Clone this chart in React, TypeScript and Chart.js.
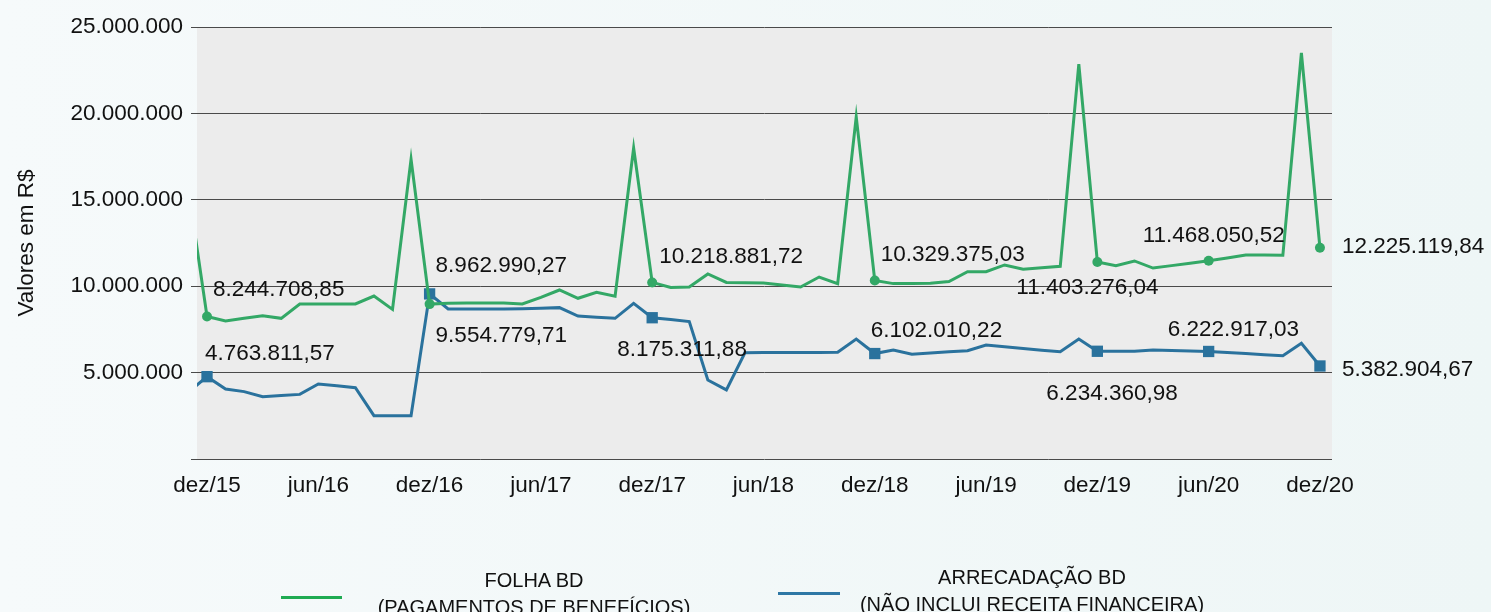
import React, { useEffect, useRef } from 'react';
import { Chart, registerables } from 'chart.js';

Chart.register(...registerables);

// ---------- DATA ----------
const MONTHS = [
  'nov/15', 'dez/15',
  'jan/16', 'fev/16', 'mar/16', 'abr/16', 'mai/16', 'jun/16', 'jul/16', 'ago/16', 'set/16', 'out/16', 'nov/16', 'dez/16',
  'jan/17', 'fev/17', 'mar/17', 'abr/17', 'mai/17', 'jun/17', 'jul/17', 'ago/17', 'set/17', 'out/17', 'nov/17', 'dez/17',
  'jan/18', 'fev/18', 'mar/18', 'abr/18', 'mai/18', 'jun/18', 'jul/18', 'ago/18', 'set/18', 'out/18', 'nov/18', 'dez/18',
  'jan/19', 'fev/19', 'mar/19', 'abr/19', 'mai/19', 'jun/19', 'jul/19', 'ago/19', 'set/19', 'out/19', 'nov/19', 'dez/19',
  'jan/20', 'fev/20', 'mar/20', 'abr/20', 'mai/20', 'jun/20', 'jul/20', 'ago/20', 'set/20', 'out/20', 'nov/20', 'dez/20',
];

// FOLHA BD (PAGAMENTOS DE BENEFÍCIOS), R$
const FOLHA = [
  15600000, 8244708.85,
  7990000, 8140000, 8290000, 8140000, 8970000, 8970000, 8970000, 8970000, 9430000, 8660000, 17350000, 8962990.27,
  9010000, 9030000, 9030000, 9030000, 8970000, 9350000, 9780000, 9300000, 9650000, 9420000, 18000000, 10218881.72,
  9930000, 9950000, 10710000, 10220000, 10200000, 10180000, 10070000, 9950000, 10530000, 10140000, 19800000, 10329375.03,
  10150000, 10160000, 10170000, 10270000, 10840000, 10840000, 11230000, 10980000, 11070000, 11150000, 22850000, 11403276.04,
  11190000, 11460000, 11050000, 11190000, 11330000, 11468050.52, 11630000, 11800000, 11800000, 11790000, 23500000, 12225119.84,
];

// ARRECADAÇÃO BD (NÃO INCLUI RECEITA FINANCEIRA), R$
const ARRECADACAO = [
  3870000, 4763811.57,
  4050000, 3900000, 3600000, 3670000, 3740000, 4340000, 4240000, 4130000, 2510000, 2510000, 2510000, 9554779.71,
  8680000, 8680000, 8680000, 8680000, 8690000, 8720000, 8760000, 8270000, 8200000, 8140000, 9010000, 8175311.88,
  8070000, 7950000, 4570000, 4000000, 6150000, 6160000, 6160000, 6170000, 6170000, 6180000, 6940000, 6102010.22,
  6310000, 6060000, 6130000, 6210000, 6270000, 6600000, 6500000, 6400000, 6300000, 6210000, 6940000, 6234360.98,
  6230000, 6230000, 6310000, 6280000, 6250000, 6222917.03, 6160000, 6100000, 6040000, 5980000, 6700000, 5382904.67,
];

const TICK_LABELS = ['dez/15', 'jun/16', 'dez/16', 'jun/17', 'dez/17', 'jun/18', 'dez/18', 'jun/19', 'dez/19', 'jun/20', 'dez/20'];
const Y_TICKS = [0, 5000000, 10000000, 15000000, 20000000, 25000000];
const MARKED = ['dez/15', 'dez/16', 'dez/17', 'dez/18', 'dez/19', 'jun/20', 'dez/20'];

const SERIES_NAMES = ['FOLHA BD\n(PAGAMENTOS DE BENEFÍCIOS)', 'ARRECADAÇÃO BD\n(NÃO INCLUI RECEITA FINANCEIRA)'];
const Y_TITLE = 'Valores em R$';

// ---------- STYLE ----------
const FONT = '"Liberation Sans", Arial, Helvetica, sans-serif';
const GREEN = '#33a866';
const BLUE = '#2a729d';
const LEGEND_GREEN = '#1fab52';
const LEGEND_BLUE = '#2e77a5';
// label offsets (px) from marker: [dx to text left, dy to text middle]
const GREEN_LABEL_OFFSETS = [[6, -29], [6, -40], [7, -27], [6, -28], [-81, 24], [-66, -27], [22, -3]];
const BLUE_LABEL_OFFSETS = [[-2, -25], [6, 40], [-35, 30], [-4, -25], [-51, 41], [-41, -23], [22, 2]];

const BASE = MONTHS.indexOf('dez/15');
const markedIdx = new Set(MARKED.map((m) => MONTHS.indexOf(m)));

function fmtInt(v: number): string {
  const s = Math.round(v).toString();
  return s.replace(/\B(?=(\d{3})+(?!\d))/g, '.');
}
function fmtMoney(v: number): string {
  const cents = Math.round(v * 100);
  const intPart = Math.floor(cents / 100);
  const dec = (cents % 100).toString().padStart(2, '0');
  return fmtInt(intPart) + ',' + dec;
}

const bgPlugin = {
  id: 'plotBg',
  beforeDraw(chart: any) {
    const { ctx, chartArea } = chart;
    ctx.save();
    ctx.fillStyle = '#ececec';
    ctx.fillRect(chartArea.left, chartArea.top, chartArea.right - chartArea.left, chartArea.bottom - chartArea.top);
    ctx.restore();
  },
};

const labelPlugin = {
  id: 'valueLabels',
  afterDatasetsDraw(chart: any) {
    const ctx = chart.ctx;
    ctx.save();
    ctx.font = `22.5px ${FONT}`;
    ctx.fillStyle = '#111';
    ctx.textAlign = 'left';
    ctx.textBaseline = 'alphabetic';
    [GREEN_LABEL_OFFSETS, BLUE_LABEL_OFFSETS].forEach((offs, di) => {
      const meta = chart.getDatasetMeta(di);
      const values = di === 0 ? FOLHA : ARRECADACAO;
      MARKED.forEach((m, k) => {
        const idx = MONTHS.indexOf(m);
        const pt = meta.data[idx];
        if (!pt) return;
        const [dx, dy] = offs[k];
        ctx.fillText(fmtMoney(values[idx]), pt.x + dx, pt.y + dy + 8);
      });
    });
    ctx.restore();
  },
};

export default function App() {
  const ref = useRef<HTMLCanvasElement | null>(null);

  useEffect(() => {
    if (!ref.current) return;
    const toPoints = (arr: number[]) => arr.map((v, i) => ({ x: i - BASE, y: v }));
    const chart = new Chart(ref.current, {
      type: 'line',
      data: {
        datasets: [
          {
            label: SERIES_NAMES[0],
            data: toPoints(FOLHA),
            borderColor: GREEN,
            backgroundColor: GREEN,
            borderWidth: 3,
            pointStyle: 'circle',
            pointRadius: (c: any) => (markedIdx.has(c.dataIndex) ? 5 : 0),
            pointBorderWidth: 0,
            pointBackgroundColor: GREEN,
            tension: 0,
          },
          {
            label: SERIES_NAMES[1],
            data: toPoints(ARRECADACAO),
            borderColor: BLUE,
            backgroundColor: BLUE,
            borderWidth: 3,
            pointStyle: 'rect',
            pointRadius: (c: any) => (markedIdx.has(c.dataIndex) ? 8 : 0),
            pointBorderWidth: 0,
            pointBackgroundColor: BLUE,
            tension: 0,
          },
        ],
      },
      options: {
        animation: false,
        responsive: false,
        devicePixelRatio: 1,
        layout: { padding: { top: 27, right: 159, bottom: 0, left: 0 } },
        plugins: {
          legend: { display: false },
          tooltip: { enabled: false },
        },
        scales: {
          x: {
            type: 'linear',
            min: -0.54,
            max: 60.65,
            grid: { display: false, drawTicks: false },
            border: { display: false },
            afterBuildTicks: (s: any) => {
              s.ticks = TICK_LABELS.map((l) => ({ value: MONTHS.indexOf(l) - BASE }));
            },
            afterFit: (s: any) => {
              s.height = 153;
            },
            ticks: {
              autoSkip: false,
              maxRotation: 0,
              minRotation: 0,
              padding: 13,
              color: '#111',
              font: { family: FONT, size: 22.5 },
              callback: (v: any) => MONTHS[Math.round(Number(v)) + BASE],
            },
          },
          y: {
            type: 'linear',
            min: 0,
            max: 25000000,
            afterBuildTicks: (s: any) => {
              s.ticks = Y_TICKS.map((v) => ({ value: v }));
            },
            afterFit: (s: any) => {
              s.width = 197;
            },
            grid: { color: '#4a4a4a', lineWidth: 1, tickLength: 6, drawTicks: true },
            border: { display: false },
            ticks: {
              padding: 8,
              color: '#111',
              font: { family: FONT, size: 22.5 },
              callback: (v: any) => (Number(v) === 0 ? '' : fmtInt(Number(v))),
            },
            title: {
              display: true,
              text: Y_TITLE,
              color: '#111',
              font: { family: FONT, size: 22.5 },
              padding: { top: 13, bottom: 0 },
            },
          },
        },
      },
      plugins: [bgPlugin, labelPlugin],
    } as any);
    return () => chart.destroy();
  }, []);

  const legendText: React.CSSProperties = {
    position: 'absolute',
    width: 420,
    textAlign: 'center',
    font: `20px ${FONT}`,
    lineHeight: '27px',
    color: '#111',
    whiteSpace: 'pre',
  };

  return (
    <div
      style={{
        position: 'fixed',
        left: 0,
        top: 0,
        width: 1491,
        height: 612,
        overflow: 'hidden',
        background: 'linear-gradient(to right, #f6fafb, #eef6f6)',
      }}
    >
      <canvas ref={ref} width={1491} height={612} style={{ display: 'block', position: 'absolute', left: 0, top: 0 }} />
      <div style={{ position: 'absolute', left: 281, top: 596, width: 61, height: 3, background: LEGEND_GREEN }} />
      <div style={{ ...legendText, left: 534 - 210, top: 567 }}>{SERIES_NAMES[0]}</div>
      <div style={{ position: 'absolute', left: 778, top: 592, width: 62, height: 3, background: LEGEND_BLUE }} />
      <div style={{ ...legendText, left: 1032 - 210, top: 564 }}>{SERIES_NAMES[1]}</div>
    </div>
  );
}
